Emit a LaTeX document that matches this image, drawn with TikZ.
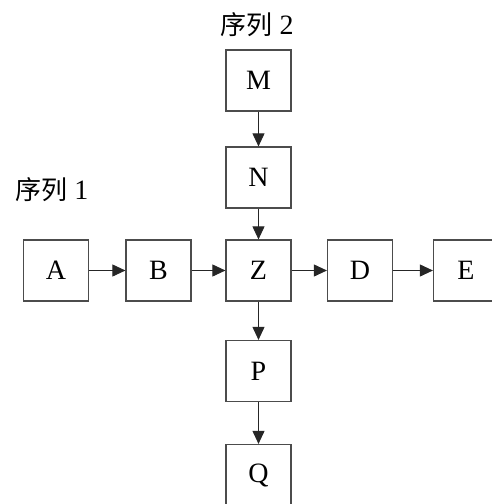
\documentclass[tikz,border=0pt]{standalone}
\usepackage{fontspec}
\setmainfont{Liberation Serif}
\newfontfamily\cjk{Noto Sans CJK SC}
\usetikzlibrary{arrows.meta}
\tikzset{
  box/.style={draw=black!70, line width=1.2pt, minimum width=65pt, minimum height=61pt, inner sep=0pt, font=\fontsize{28}{30}\selectfont},
  link/.style={draw=black!85, line width=0.9pt, -{Triangle[length=13pt,width=12pt]}},
  seqlabel/.style={font=\fontsize{28}{30}\selectfont, inner sep=0pt}
}
\begin{document}
\begin{tikzpicture}[x=1pt,y=-1pt]
\useasboundingbox (0,0) rectangle (491,504);
\node[seqlabel] (l2) at (257,25) {{\cjk\fontsize{26}{30}\selectfont 序列} 2};
\node[seqlabel] (l1) at (52,190) {{\cjk\fontsize{26}{30}\selectfont 序列} 1};
\node[box] (M) at (258.5,80.5) {M};
\node[box] (N) at (258.5,177.5) {N};
\node[box] (A) at (56,270.5) {A};
\node[box] (B) at (158.5,270.5) {B};
\node[box] (Z) at (258.5,270.5) {Z};
\node[box] (D) at (360,270.5) {D};
\node[box] (E) at (466,270.5) {E};
\node[box] (P) at (258.5,371) {P};
\node[box] (Q) at (258.5,475) {Q};
\draw[link] (M) -- (N);
\draw[link] (N) -- (Z);
\draw[link] (A) -- (B);
\draw[link] (B) -- (Z);
\draw[link] (Z) -- (D);
\draw[link] (D) -- (E);
\draw[link] (Z) -- (P);
\draw[link] (P) -- (Q);
\end{tikzpicture}
\end{document}
